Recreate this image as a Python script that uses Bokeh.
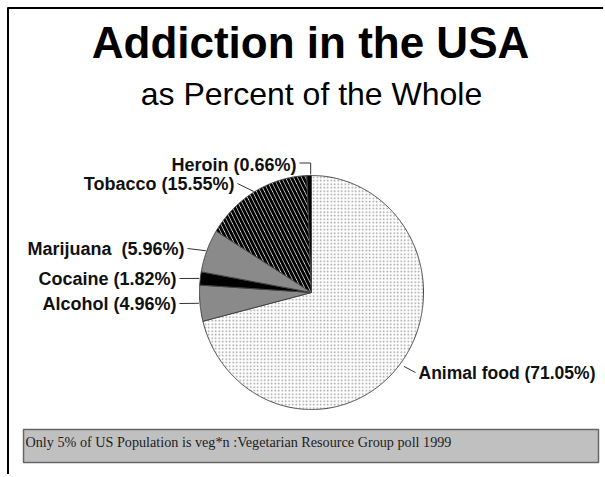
import numpy as np
from bokeh.plotting import figure
from bokeh.models import Range1d, ColumnDataSource
from bokeh.core.properties import value
from bokeh.embed import file_html
from bokeh.resources import INLINE

# ---- data ----
categories = ["Animal food", "Alcohol", "Cocaine", "Marijuana", "Tobacco", "Heroin"]
percents = [71.05, 4.96, 1.82, 5.96, 15.55, 0.66]
labels = ["Animal food (71.05%)", "Alcohol (4.96%)", "Cocaine (1.82%)",
          "Marijuana \u00a0(5.96%)", "Tobacco (15.55%)", "Heroin (0.66%)"]
title = "Addiction in the USA"
subtitle = "as Percent of the Whole"
footnote = "Only 5% of US Population is veg*n :Vegetarian Resource Group poll 1999"

# ---- styles / layout ----
fills = ["white", "#8a8a8a", "black", "#8a8a8a", "white", "black"]
hatches = [".", " ", " ", " ", "\\", " "]
hatch_colors = ["#9a9a9a", "black", "black", "black", "black", "black"]
hatch_scales = [3.5, 6, 6, 6, 8, 6]
hatch_weights = [1.0, 1, 1, 1, 3, 1]
# label anchor (x, y in page px), alignment, size
lab_xy = [(418, 372), (176, 303), (176, 278), (184, 248), (234, 183), (296, 164)]
lab_align = ["left", "right", "right", "right", "right", "right"]
lab_size = ["17.5px", "18px", "18px", "18px", "18px", "18px"]

W, H = 603, 474
cx, cy, rx, ry = 311, 292, 112, 117

p = figure(width=W, height=H, output_backend="svg", toolbar_location=None,
           x_range=Range1d(0, W), y_range=Range1d(-H, 0),
           min_border=0)
p.axis.visible = False
p.grid.visible = False
p.outline_line_color = None
p.background_fill_color = "white"
p.border_fill_color = "white"

# frame lines (top and left)
p.line([7, W], [-7.5, -7.5], line_color="black", line_width=2)
p.line([7.5, 7.5], [-7, -H], line_color="black", line_width=2)

# pie wedges, clockwise from 12 o'clock
fr = np.array(percents) / sum(percents)
ends = 90 - 360 * np.cumsum(fr)
starts = np.concatenate([[90], ends[:-1]])
xs, ys, mids = [], [], []
for a0, a1 in zip(starts, ends):
    t = np.radians(np.linspace(a0, a1, max(3, int(abs(a0 - a1) * 2))))
    xs.append(np.concatenate([[cx], cx + rx * np.cos(t), [cx]]))
    ys.append(np.concatenate([[-cy], -cy + ry * np.sin(t), [-cy]]))
    mids.append(np.radians((a0 + a1) / 2))

src = ColumnDataSource(dict(xs=xs, ys=ys, fill=fills, hatch=hatches,
                            hc=hatch_colors, hs=hatch_scales, hw=hatch_weights))
p.patches("xs", "ys", source=src, fill_color="fill", hatch_pattern="hatch",
          hatch_color="hc", hatch_scale="hs", hatch_weight="hw",
          line_color="#444444", line_width=1)

# leader lines and labels
for i, lab in enumerate(labels):
    m = mids[i]
    ex, ey = cx + rx * np.cos(m), cy - ry * np.sin(m)
    lx, ly = lab_xy[i]
    if lab_align[i] == "left":
        sx = lx - 3
        p.line([ex + 4, sx], [-(ey + 2), -ly], line_color="#333333", line_width=1)
    elif categories[i] == "Heroin":
        sx = lx + 3
        p.line([sx, ex + 1.5, ex + 1.5], [-ly + 1.5, -ly + 1.5, -(ey - 1)],
               line_color="#333333", line_width=1)
    else:
        sx = lx + 3
        p.line([sx, ex - 1], [-ly, -ey], line_color="#333333", line_width=1)
    p.text(x=[lx], y=[-ly], text=[lab], text_font=value("Liberation Sans"),
           text_font_style="bold", text_font_size=lab_size[i], text_color="#111111",
           text_align=lab_align[i], text_baseline="middle")

# titles
p.text(x=[310], y=[-42], text=[title], text_font=value("Liberation Sans"),
       text_font_style="bold", text_font_size="44px", text_color="black",
       text_align="center", text_baseline="middle")
p.text(x=[311], y=[-93], text=[subtitle], text_font=value("Liberation Sans"),
       text_font_size="32px", text_color="black",
       text_align="center", text_baseline="middle")

# footnote box
p.quad(left=[23], right=[598], top=[-429], bottom=[-462],
       fill_color="#c0c0c0", line_color="#666666", line_width=1.5)
p.text(x=[25], y=[-441], text=[footnote], text_font=value("Liberation Serif"),
       text_font_size="14.2px", text_color="#222222",
       text_align="left", text_baseline="middle")

open("out.html", "w").write(file_html(p, INLINE))
